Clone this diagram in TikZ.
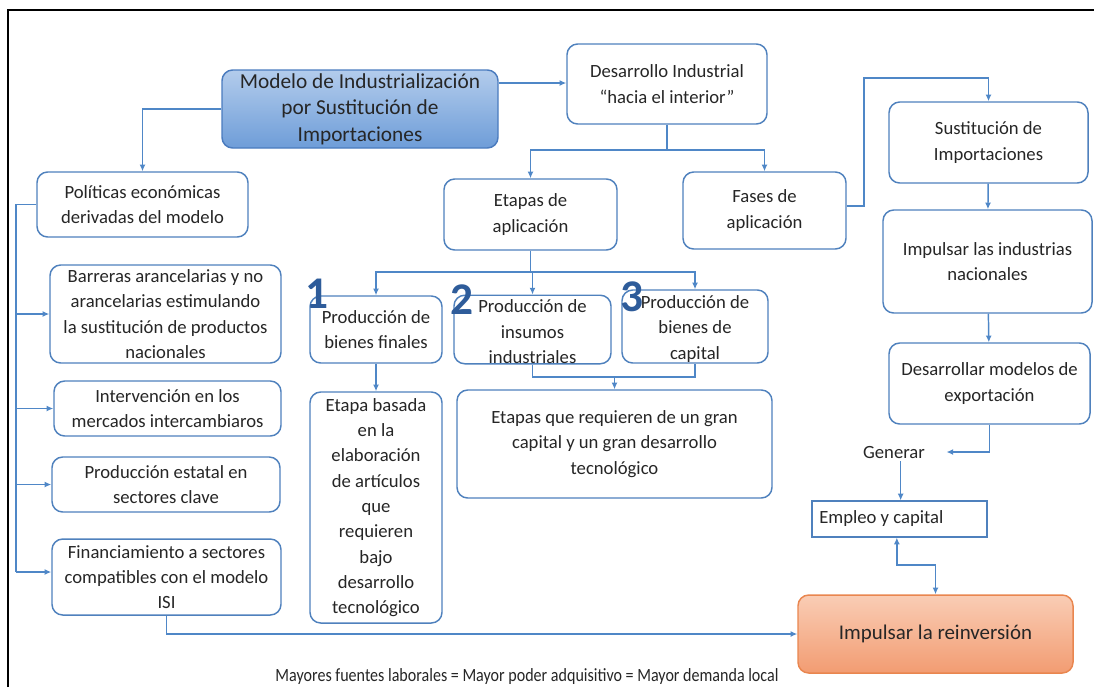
\documentclass[tikz,border=0pt]{standalone}
\usepackage{fontspec}
\setmainfont{Carlito}
\usetikzlibrary{arrows.meta}
\definecolor{ln}{HTML}{4F87C7}
\definecolor{bord}{HTML}{4F81BD}
\definecolor{txt}{HTML}{262626}
\definecolor{numc}{HTML}{2E5C9A}
\definecolor{bltop}{HTML}{B3CCEC}
\definecolor{blbot}{HTML}{6E9DD8}
\definecolor{bldraw}{HTML}{4A7BBE}
\definecolor{ortop}{HTML}{FACDB5}
\definecolor{orbot}{HTML}{F29C72}
\definecolor{ordraw}{HTML}{E9864F}
\begin{document}
\begin{tikzpicture}[x=0.75pt,y=-0.75pt,
  box/.style={draw=bord, rounded corners=8pt, line width=1.1pt, fill=white, align=center,
    inner sep=0pt, text=txt, font=\fontsize{14}{19}\selectfont},
  arr/.style={draw=ln, line width=1.1pt, -{Latex[length=5pt,width=4.5pt]}},
  ln/.style={draw=ln, line width=1.1pt},
  dbl/.style={draw=ln, line width=1.1pt, {Latex[length=5pt,width=4.5pt]}-{Latex[length=5pt,width=4.5pt]}},
  numb/.style={text=numc, font=\fontsize{34}{34}\selectfont\bfseries, inner sep=0pt}]
\useasboundingbox (0,0) rectangle (1094,687);
\draw[black, line width=0.8pt] (8,687) -- (8,10) -- (1094,10);

% boxes
\node[box, minimum width=207pt, minimum height=58.5pt, top color=bltop, bottom color=blbot, draw=bldraw,
  font=\fontsize{16}{20}\selectfont] (mod) at (360,109) {Modelo de Industrialización\\por Sustitución de\\Importaciones};
\node[box, minimum width=150pt, minimum height=60pt, font=\fontsize{14}{20}\selectfont] (des) at (667,84) {Desarrollo Industrial\\“hacia el interior”};
\node[box, minimum width=158.25pt, minimum height=48.75pt] (pol) at (142.5,204.5) {Políticas económicas\\derivadas del modelo};
\node[box, minimum width=129.75pt, minimum height=53.25pt] (eta) at (530.5,214.5) {Etapas de\\aplicación};
\node[box, minimum width=122.25pt, minimum height=57.75pt] (fas) at (764.5,210.5) {Fases de\\aplicación};
\node[box, minimum width=149.25pt, minimum height=60.75pt] (sus) at (988.5,142.5) {Sustitución de\\Importaciones};
\node[box, minimum width=156.75pt, minimum height=77.25pt] (imp) at (987.5,261.5) {Impulsar las industrias\\nacionales};
\node[box, minimum width=150.75pt, minimum height=60.75pt] (dev) at (989.5,383.5) {Desarrollar modelos de\\exportación};
\node[text=txt, font=\fontsize{14}{16}\selectfont, inner sep=2pt] (gen) at (894,452) {Generar};
\node[draw=bord, line width=0.9pt, text=txt, font=\fontsize{14}{16}\selectfont, minimum width=131.25pt,
  inner ysep=0pt, minimum height=27pt] (emp) at (899.5,519) {};
\node[text=txt, font=\fontsize{14}{16}\selectfont, anchor=west, inner sep=0pt] (empt) at (819,519) {Empleo y capital};
\node[box, minimum width=206.25pt, minimum height=58.5pt, top color=ortop, bottom color=orbot, draw=ordraw,
  font=\fontsize{15.7}{18}\selectfont] (rei) at (935.5,634) {Impulsar la reinversión};

\node[box, minimum width=173.25pt, minimum height=73.5pt] (bar) at (165.5,314) {Barreras arancelarias y no\\arancelarias estimulando\\la sustitución de productos\\nacionales};
\node[box, minimum width=170.25pt, minimum height=41.25pt] (int) at (167.5,408.5) {Intervención en los\\mercados intercambiaros};
\node[box, minimum width=171pt, minimum height=41.25pt] (est) at (166,484.5) {Producción estatal en\\sectores clave};
\node[box, minimum width=171.75pt, minimum height=57pt] (fin) at (166.5,577) {Financiamiento a sectores\\compatibles con el modelo\\ISI};

\node[box, minimum width=99pt, minimum height=50.25pt] (pf) at (376,329.5) {Producción de\\bienes finales};
\node[box, minimum width=99pt, minimum height=173.25pt] (eb) at (376,507.5) {Etapa basada\\en la\\elaboración\\de artículos\\que\\requieren\\bajo\\desarrollo\\tecnológico};
\node[box, minimum width=117.75pt, minimum height=50.25pt] (pi) at (532.5,329.5) {\strut Producción de\\insumos\\industriales};
\node[box, minimum width=109.5pt, minimum height=54.75pt] (pc) at (695,326.5) {\strut Producción de\\bienes de\\capital};
\node[box, minimum width=236.25pt, minimum height=81pt] (eq) at (614.5,444) {Etapas que requieren de un gran\\capital y un gran desarrollo\\tecnológico};

\node[numb] (n1) at (317,294) {1};
\node[numb] (n2) at (462,300) {2};
\node[numb] (n3) at (632,297) {3};

\node[text=txt, font=\fontsize{14}{16}\selectfont, inner sep=0pt] (cap) at (527,677)
  {\scalebox{0.86}[1]{Mayores fuentes laborales = Mayor poder adquisitivo = Mayor demanda local}};

% connectors
\draw[arr] (mod.west) -| (pol.north);
\draw[arr] (mod.east |- 0,83) -- (des.west |- 0,83);
\coordinate (j1) at (667,150);
\draw[ln] (des.south) -- (j1);
\draw[arr] (j1) -| (eta.north);
\draw[arr] (j1) -| (fas.north);
\coordinate (j2) at (530.5,272);
\draw[ln] (eta.south) -- (j2);
\draw[arr] (j2) -| (pf.north);
\draw[arr] (j2) -| (pc.north);
\draw[arr] (pi.north |- j2) -- (pi.north);
\draw[arr] (pf) -- (eb);
\coordinate (j3) at (616,377);
\draw[ln] (pi.south) |- (j3) -| (pc.south);
\draw[arr] (eq.north |- j3) -- (eq.north);
\coordinate (bus) at (16,572);
\draw[ln] (pol.west) -| (bus);
\draw[arr] (bus |- bar.west) -- (bar.west);
\draw[arr] (bus |- int.west) -- (int.west);
\draw[arr] (bus |- est.west) -- (est.west);
\draw[arr] (bus) -- (bus -| fin.west);
\coordinate (k) at (864,78);
\draw[arr] (fas.east |- 0,206) -| (k) -| (sus.north);
\draw[arr] (sus) -- (imp);
\draw[arr] (imp) -- (dev);
\draw[arr] (dev.south) |- ([xshift=14pt]gen.east);
\draw[arr] ([xshift=5pt]gen.south) -- ([xshift=5pt]gen.south |- emp.north);
\coordinate (m) at (935.5,565);
\draw[dbl] ([xshift=-2pt]emp.south) |- (m) -- (rei.north);
\draw[arr] (fin.south) |- (rei.west);
\end{tikzpicture}
\end{document}
